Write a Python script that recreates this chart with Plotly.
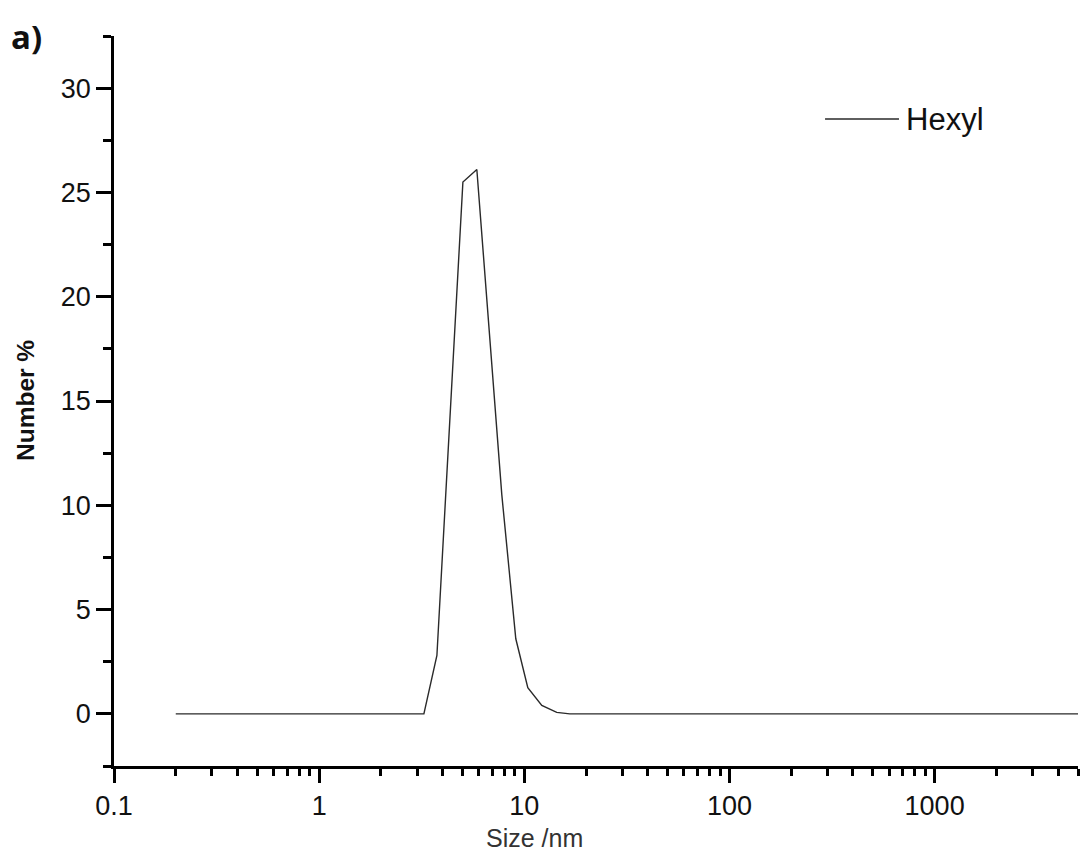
import plotly.graph_objects as go

# Data
size_nm = [0.2, 3.24, 3.75, 4.34, 5.02, 5.87, 6.79, 7.77, 9.09, 10.4, 12.17, 14.39, 16.66, 5000]
number_pct = [0, 0, 2.8, 14.0, 25.5, 26.1, 18.0, 10.5, 3.6, 1.25, 0.4, 0.07, 0, 0]

x_major = [0.1, 1, 10, 100, 1000]
x_major_labels = ["0.1", "1", "10", "100", "1000"]
y_major = [0, 5, 10, 15, 20, 25, 30]

x_minor = [m * d for d in [0.1, 1, 10, 100, 1000] for m in range(2, 10) if m * d <= 5000]
y_minor = [-2.5, 2.5, 7.5, 12.5, 17.5, 22.5, 27.5, 32.5]

fig = go.Figure()
fig.add_trace(go.Scatter(
    x=size_nm, y=number_pct, mode="lines", name="Hexyl",
    line=dict(color="#2a2a2a", width=1.4), showlegend=False,
))

tick_font = dict(family="Liberation Sans, Arial, sans-serif", size=27, color="#111")

fig.update_layout(
    width=1081, height=854,
    margin=dict(l=114, r=3, t=36, b=88),
    paper_bgcolor="white", plot_bgcolor="white",
    xaxis=dict(
        type="log", range=[-1, 3.69897],
        tickmode="array", tickvals=x_major, ticktext=x_major_labels,
        ticks="outside", ticklen=14, tickwidth=2.5, tickcolor="black",
        showline=True, linewidth=2.5, linecolor="black", mirror=False,
        showgrid=False, zeroline=False, tickfont=tick_font,
        minor=dict(tickmode="array", tickvals=x_minor, ticks="outside",
                   ticklen=7, tickwidth=2.5, tickcolor="black", showgrid=False),
    ),
    yaxis=dict(
        range=[-2.5, 32.5],
        tickmode="array", tickvals=y_major,
        ticks="outside", ticklen=15, tickwidth=2.5, tickcolor="black",
        showline=True, linewidth=2.5, linecolor="black", mirror=False,
        showgrid=False, zeroline=False, tickfont=tick_font,
        minor=dict(tickmode="array", tickvals=y_minor, ticks="outside",
                   ticklen=8, tickwidth=2.5, tickcolor="black", showgrid=False),
    ),
)

# Legend (manual, to match the long sample line)
fig.add_shape(type="line", xref="paper", yref="paper",
              x0=0.7376, x1=0.8143, y0=0.8863, y1=0.8863,
              line=dict(color="#2a2a2a", width=1.4))
fig.add_annotation(text="Hexyl", xref="paper", yref="paper",
                   x=0.8195, y=0.8863, xanchor="left", yanchor="middle",
                   showarrow=False,
                   font=dict(family="Liberation Sans, Arial, sans-serif", size=31, color="#111"))

# Axis titles
fig.add_annotation(text="Size /nm", xref="paper", yref="paper",
                   x=0.4367, y=-0.0986, xanchor="center", yanchor="middle",
                   showarrow=False,
                   font=dict(family="Liberation Sans, Arial, sans-serif", size=25, color="#333"))
fig.add_annotation(text="<b>Number %</b>", xref="paper", yref="paper",
                   x=-0.0923, y=0.5, xanchor="center", yanchor="middle",
                   textangle=-90, showarrow=False,
                   font=dict(family="Liberation Sans, Arial, sans-serif", size=24.5, color="#111"))

# Panel label
fig.add_annotation(text="<b>a)</b>", xref="paper", yref="paper",
                   x=-0.109, y=0.999, xanchor="left", yanchor="middle",
                   showarrow=False,
                   font=dict(family="Open Sans, Liberation Sans, sans-serif", size=33, color="#111"))

fig.write_html("out.html")
